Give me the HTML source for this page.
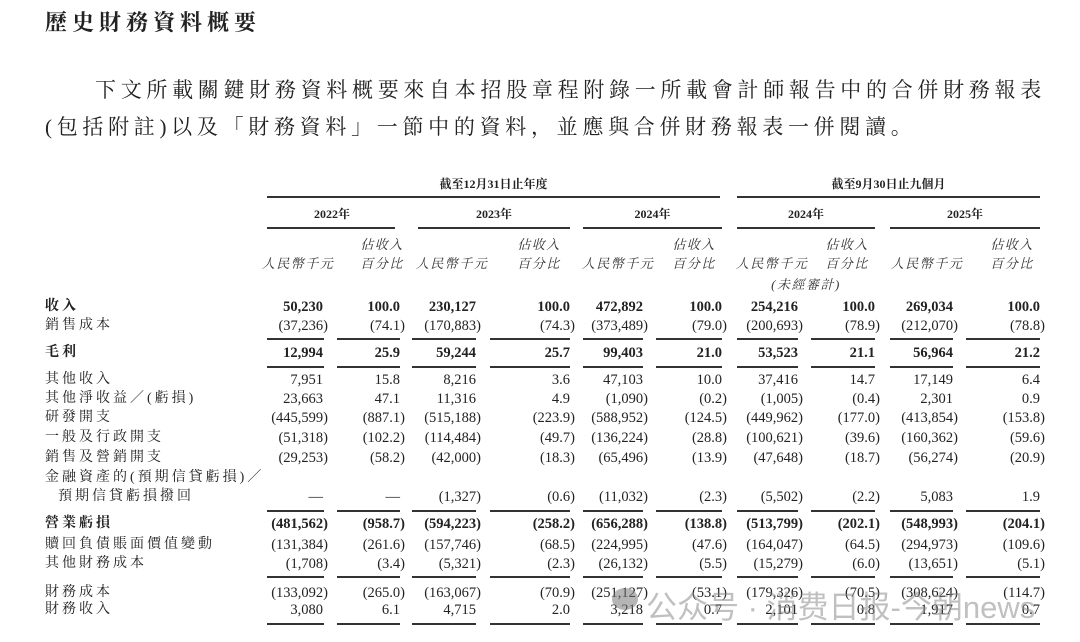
<!DOCTYPE html>
<html><head><meta charset="utf-8">
<style>
body{margin:0;background:#fff;}
#pg{position:relative;width:1080px;height:642px;overflow:hidden;background:#fff;color:#222;font-family:"Liberation Serif","Noto Serif CJK SC",serif;}
.a{position:absolute;white-space:nowrap;}
.t{left:45px;top:6px;font-size:22px;font-weight:bold;letter-spacing:5px;font-family:"Liberation Serif","Noto Serif CJK SC",serif;}
.p{font-size:21px;letter-spacing:4.7px;}
.h{font-size:12px;font-weight:bold;text-align:center;}
.i{font-size:13px;font-style:italic;letter-spacing:1.5px;text-align:center;color:#333;}
.r{position:absolute;left:0;width:1080px;height:20px;line-height:20px;font-size:14.5px;}
.r .l{position:absolute;left:45px;letter-spacing:3px;font-size:14px;font-family:"Liberation Serif","Noto Serif CJK SC",serif;}
.r span.v{position:absolute;}
.b{font-weight:bold;}
.n{transform:translateX(5px);}
.ln{position:absolute;height:1.5px;background:#333;}
.c1{right:757px}.c2{right:680px}.c3{right:604px}.c4{right:510px}.c5{right:437px}
.c6{right:358px}.c7{right:282px}.c8{right:205px}.c9{right:127px}.c10{right:40px}
</style></head><body><div id="pg">
<div class="a t">歷史財務資料概要</div>
<div class="a p" style="left:95px;top:74px;">下文所載關鍵財務資料概要來自本招股章程附錄一所載會計師報告中的合併財務報表</div>
<div class="a p" style="left:45px;top:111px;">(包括附註)以及「財務資料」一節中的資料，並應與合併財務報表一併閱讀。</div>

<div class="a h" style="left:267px;width:453px;top:175px;">截至12月31日止年度</div>
<div class="a h" style="left:737px;width:303px;top:175px;">截至9月30日止九個月</div>
<div class="ln" style="left:267px;width:453px;top:196px;"></div>
<div class="ln" style="left:737px;width:303px;top:196px;"></div>
<div class="a h" style="left:267px;width:130px;top:205px;">2022年</div>
<div class="a h" style="left:418px;width:152px;top:205px;">2023年</div>
<div class="a h" style="left:583px;width:139px;top:205px;">2024年</div>
<div class="a h" style="left:737px;width:138px;top:205px;">2024年</div>
<div class="a h" style="left:890px;width:150px;top:205px;">2025年</div>
<div class="ln" style="left:267px;width:128px;top:227px;"></div>
<div class="ln" style="left:418px;width:152px;top:227px;"></div>
<div class="ln" style="left:583px;width:139px;top:227px;"></div>
<div class="ln" style="left:737px;width:138px;top:227px;"></div>
<div class="ln" style="left:890px;width:150px;top:227px;"></div>

<div class="a i" style="left:352px;width:60px;top:234px;">佔收入</div>
<div class="a i" style="left:509px;width:60px;top:234px;">佔收入</div>
<div class="a i" style="left:664px;width:60px;top:234px;">佔收入</div>
<div class="a i" style="left:817px;width:60px;top:234px;">佔收入</div>
<div class="a i" style="left:982px;width:60px;top:234px;">佔收入</div>
<div class="a i" style="left:352px;width:60px;top:253px;">百分比</div>
<div class="a i" style="left:509px;width:60px;top:253px;">百分比</div>
<div class="a i" style="left:664px;width:60px;top:253px;">百分比</div>
<div class="a i" style="left:817px;width:60px;top:253px;">百分比</div>
<div class="a i" style="left:982px;width:60px;top:253px;">百分比</div>
<div class="a i" style="left:258px;width:80px;top:253px;">人民幣千元</div>
<div class="a i" style="left:412px;width:80px;top:253px;">人民幣千元</div>
<div class="a i" style="left:578px;width:80px;top:253px;">人民幣千元</div>
<div class="a i" style="left:732px;width:80px;top:253px;">人民幣千元</div>
<div class="a i" style="left:887px;width:80px;top:253px;">人民幣千元</div>
<div class="a i" style="left:766px;width:80px;top:274px;">(未經審計)</div>

<div class="r b" style="top:297px"><span class="l b">收入</span><span class="v c1">50,230</span><span class="v c2">100.0</span><span class="v c3">230,127</span><span class="v c4">100.0</span><span class="v c5">472,892</span><span class="v c6">100.0</span><span class="v c7">254,216</span><span class="v c8">100.0</span><span class="v c9">269,034</span><span class="v c10">100.0</span></div>
<div class="r" style="top:316px"><span class="l">銷售成本</span><span class="v c1 n">(37,236)</span><span class="v c2 n">(74.1)</span><span class="v c3 n">(170,883)</span><span class="v c4 n">(74.3)</span><span class="v c5 n">(373,489)</span><span class="v c6 n">(79.0)</span><span class="v c7 n">(200,693)</span><span class="v c8 n">(78.9)</span><span class="v c9 n">(212,070)</span><span class="v c10 n">(78.8)</span></div>
<div class="r b" style="top:343px"><span class="l b">毛利</span><span class="v c1">12,994</span><span class="v c2">25.9</span><span class="v c3">59,244</span><span class="v c4">25.7</span><span class="v c5">99,403</span><span class="v c6">21.0</span><span class="v c7">53,523</span><span class="v c8">21.1</span><span class="v c9">56,964</span><span class="v c10">21.2</span></div>
<div class="r" style="top:370px"><span class="l">其他收入</span><span class="v c1">7,951</span><span class="v c2">15.8</span><span class="v c3">8,216</span><span class="v c4">3.6</span><span class="v c5">47,103</span><span class="v c6">10.0</span><span class="v c7">37,416</span><span class="v c8">14.7</span><span class="v c9">17,149</span><span class="v c10">6.4</span></div>
<div class="r" style="top:389px"><span class="l">其他淨收益／(虧損)</span><span class="v c1">23,663</span><span class="v c2">47.1</span><span class="v c3">11,316</span><span class="v c4">4.9</span><span class="v c5 n">(1,090)</span><span class="v c6 n">(0.2)</span><span class="v c7 n">(1,005)</span><span class="v c8 n">(0.4)</span><span class="v c9">2,301</span><span class="v c10">0.9</span></div>
<div class="r" style="top:408px"><span class="l">研發開支</span><span class="v c1 n">(445,599)</span><span class="v c2 n">(887.1)</span><span class="v c3 n">(515,188)</span><span class="v c4 n">(223.9)</span><span class="v c5 n">(588,952)</span><span class="v c6 n">(124.5)</span><span class="v c7 n">(449,962)</span><span class="v c8 n">(177.0)</span><span class="v c9 n">(413,854)</span><span class="v c10 n">(153.8)</span></div>
<div class="r" style="top:428px"><span class="l">一般及行政開支</span><span class="v c1 n">(51,318)</span><span class="v c2 n">(102.2)</span><span class="v c3 n">(114,484)</span><span class="v c4 n">(49.7)</span><span class="v c5 n">(136,224)</span><span class="v c6 n">(28.8)</span><span class="v c7 n">(100,621)</span><span class="v c8 n">(39.6)</span><span class="v c9 n">(160,362)</span><span class="v c10 n">(59.6)</span></div>
<div class="r" style="top:448px"><span class="l">銷售及營銷開支</span><span class="v c1 n">(29,253)</span><span class="v c2 n">(58.2)</span><span class="v c3 n">(42,000)</span><span class="v c4 n">(18.3)</span><span class="v c5 n">(65,496)</span><span class="v c6 n">(13.9)</span><span class="v c7 n">(47,648)</span><span class="v c8 n">(18.7)</span><span class="v c9 n">(56,274)</span><span class="v c10 n">(20.9)</span></div>
<div class="r" style="top:468px"><span class="l">金融資產的(預期信貸虧損)／</span></div>
<div class="r" style="top:487px"><span class="l" style="left:58px">預期信貸虧損撥回</span><span class="v c1">—</span><span class="v c2">—</span><span class="v c3 n">(1,327)</span><span class="v c4 n">(0.6)</span><span class="v c5 n">(11,032)</span><span class="v c6 n">(2.3)</span><span class="v c7 n">(5,502)</span><span class="v c8 n">(2.2)</span><span class="v c9">5,083</span><span class="v c10">1.9</span></div>
<div class="r b" style="top:514px"><span class="l b">營業虧損</span><span class="v c1 n">(481,562)</span><span class="v c2 n">(958.7)</span><span class="v c3 n">(594,223)</span><span class="v c4 n">(258.2)</span><span class="v c5 n">(656,288)</span><span class="v c6 n">(138.8)</span><span class="v c7 n">(513,799)</span><span class="v c8 n">(202.1)</span><span class="v c9 n">(548,993)</span><span class="v c10 n">(204.1)</span></div>
<div class="r" style="top:535px"><span class="l">贖回負債賬面價值變動</span><span class="v c1 n">(131,384)</span><span class="v c2 n">(261.6)</span><span class="v c3 n">(157,746)</span><span class="v c4 n">(68.5)</span><span class="v c5 n">(224,995)</span><span class="v c6 n">(47.6)</span><span class="v c7 n">(164,047)</span><span class="v c8 n">(64.5)</span><span class="v c9 n">(294,973)</span><span class="v c10 n">(109.6)</span></div>
<div class="r" style="top:554px"><span class="l">其他財務成本</span><span class="v c1 n">(1,708)</span><span class="v c2 n">(3.4)</span><span class="v c3 n">(5,321)</span><span class="v c4 n">(2.3)</span><span class="v c5 n">(26,132)</span><span class="v c6 n">(5.5)</span><span class="v c7 n">(15,279)</span><span class="v c8 n">(6.0)</span><span class="v c9 n">(13,651)</span><span class="v c10 n">(5.1)</span></div>
<div class="r" style="top:583px"><span class="l">財務成本</span><span class="v c1 n">(133,092)</span><span class="v c2 n">(265.0)</span><span class="v c3 n">(163,067)</span><span class="v c4 n">(70.9)</span><span class="v c5 n">(251,127)</span><span class="v c6 n">(53.1)</span><span class="v c7 n">(179,326)</span><span class="v c8 n">(70.5)</span><span class="v c9 n">(308,624)</span><span class="v c10 n">(114.7)</span></div>
<div class="r" style="top:600px"><span class="l">財務收入</span><span class="v c1">3,080</span><span class="v c2">6.1</span><span class="v c3">4,715</span><span class="v c4">2.0</span><span class="v c5">3,218</span><span class="v c6">0.7</span><span class="v c7">2,101</span><span class="v c8">0.8</span><span class="v c9">1,917</span><span class="v c10">0.7</span></div>

<div style="position:absolute;left:0;top:0;">
<div class="ln" style="left:267px;width:57px;top:338px"></div><div class="ln" style="left:337px;width:63px;top:338px"></div><div class="ln" style="left:412px;width:64px;top:338px"></div><div class="ln" style="left:490px;width:80px;top:338px"></div><div class="ln" style="left:583px;width:60px;top:338px"></div><div class="ln" style="left:656px;width:66px;top:338px"></div><div class="ln" style="left:737px;width:61px;top:338px"></div><div class="ln" style="left:811px;width:64px;top:338px"></div><div class="ln" style="left:890px;width:63px;top:338px"></div><div class="ln" style="left:966px;width:74px;top:338px"></div>
<div class="ln" style="left:267px;width:57px;top:366px"></div><div class="ln" style="left:337px;width:63px;top:366px"></div><div class="ln" style="left:412px;width:64px;top:366px"></div><div class="ln" style="left:490px;width:80px;top:366px"></div><div class="ln" style="left:583px;width:60px;top:366px"></div><div class="ln" style="left:656px;width:66px;top:366px"></div><div class="ln" style="left:737px;width:61px;top:366px"></div><div class="ln" style="left:811px;width:64px;top:366px"></div><div class="ln" style="left:890px;width:63px;top:366px"></div><div class="ln" style="left:966px;width:74px;top:366px"></div>
<div class="ln" style="left:267px;width:57px;top:510px"></div><div class="ln" style="left:337px;width:63px;top:510px"></div><div class="ln" style="left:412px;width:64px;top:510px"></div><div class="ln" style="left:490px;width:80px;top:510px"></div><div class="ln" style="left:583px;width:60px;top:510px"></div><div class="ln" style="left:656px;width:66px;top:510px"></div><div class="ln" style="left:737px;width:61px;top:510px"></div><div class="ln" style="left:811px;width:64px;top:510px"></div><div class="ln" style="left:890px;width:63px;top:510px"></div><div class="ln" style="left:966px;width:74px;top:510px"></div>
<div class="ln" style="left:267px;width:57px;top:576px"></div><div class="ln" style="left:337px;width:63px;top:576px"></div><div class="ln" style="left:412px;width:64px;top:576px"></div><div class="ln" style="left:490px;width:80px;top:576px"></div><div class="ln" style="left:583px;width:60px;top:576px"></div><div class="ln" style="left:656px;width:66px;top:576px"></div><div class="ln" style="left:737px;width:61px;top:576px"></div><div class="ln" style="left:811px;width:64px;top:576px"></div><div class="ln" style="left:890px;width:63px;top:576px"></div><div class="ln" style="left:966px;width:74px;top:576px"></div>
<div class="ln" style="left:267px;width:57px;top:623px"></div><div class="ln" style="left:337px;width:63px;top:623px"></div><div class="ln" style="left:412px;width:64px;top:623px"></div><div class="ln" style="left:490px;width:80px;top:623px"></div><div class="ln" style="left:583px;width:60px;top:623px"></div><div class="ln" style="left:656px;width:66px;top:623px"></div><div class="ln" style="left:737px;width:61px;top:623px"></div><div class="ln" style="left:811px;width:64px;top:623px"></div><div class="ln" style="left:890px;width:63px;top:623px"></div><div class="ln" style="left:966px;width:74px;top:623px"></div>
</div>

<div style="position:absolute;left:612px;top:588px;width:26px;height:22px;border-radius:50%;background:rgba(120,120,120,0.55);"></div>
<div class="a" style="left:646px;top:582px;font-size:31px;color:rgba(140,140,140,0.55);font-family:'Liberation Sans','Noto Sans CJK SC',sans-serif;">公众号 · 消费日报-今朝news</div>
</div></body></html>
